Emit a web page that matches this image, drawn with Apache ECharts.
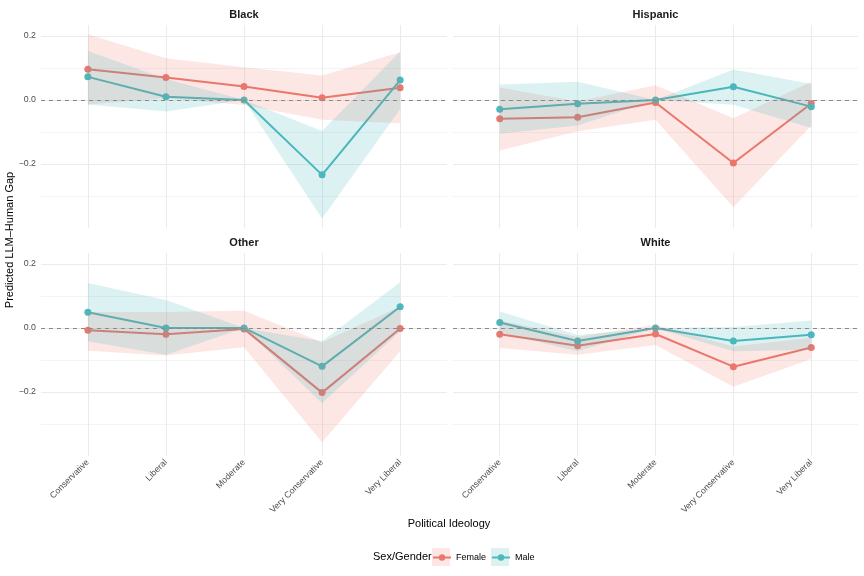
<!DOCTYPE html>
<html>
<head>
<meta charset="utf-8">
<script src="https://cdn.jsdelivr.net/npm/echarts@6/dist/echarts.min.js"></script>
<style>
html,body{margin:0;padding:0;background:#fff;}
#chart{width:864px;height:576px;}
</style>
</head>
<body>
<div id="chart"></div>
<script>
// ---- data ----
const categories = ['Conservative', 'Liberal', 'Moderate', 'Very Conservative', 'Very Liberal'];
const panels = ['Black', 'Hispanic', 'Other', 'White'];

const blackFemale   = [0.096, 0.070, 0.042, 0.007, 0.038];
const blackFemaleLo = [-0.014, 0.005, -0.016, -0.062, -0.073];
const blackFemaleHi = [0.205, 0.130, 0.102, 0.076, 0.149];
const blackMale     = [0.072, 0.010, 0.000, -0.234, 0.062];
const blackMaleLo   = [-0.014, -0.036, 0.000, -0.370, -0.028];
const blackMaleHi   = [0.153, 0.065, 0.000, -0.097, 0.151];

const hispanicFemale   = [-0.059, -0.054, -0.008, -0.197, -0.011];
const hispanicFemaleLo = [-0.158, -0.098, -0.062, -0.335, -0.080];
const hispanicFemaleHi = [0.039, -0.005, 0.046, -0.057, 0.057];
const hispanicMale     = [-0.029, -0.012, 0.000, 0.041, -0.021];
const hispanicMaleLo   = [-0.106, -0.080, 0.000, -0.015, -0.088];
const hispanicMaleHi   = [0.048, 0.057, 0.000, 0.095, 0.050];

const otherFemale   = [-0.007, -0.020, -0.003, -0.202, -0.002];
const otherFemaleLo = [-0.071, -0.086, -0.060, -0.357, -0.073];
const otherFemaleHi = [0.050, 0.050, 0.054, -0.045, 0.066];
const otherMale     = [0.049, 0.000, 0.000, -0.120, 0.066];
const otherMaleLo   = [-0.042, -0.084, 0.000, -0.235, -0.010];
const otherMaleHi   = [0.140, 0.087, 0.000, -0.042, 0.143];

const whiteFemale   = [-0.020, -0.056, -0.019, -0.121, -0.061];
const whiteFemaleLo = [-0.063, -0.084, -0.053, -0.184, -0.097];
const whiteFemaleHi = [0.023, -0.028, 0.010, -0.058, -0.031];
const whiteMale     = [0.017, -0.041, 0.000, -0.041, -0.021];
const whiteMaleLo   = [-0.015, -0.073, 0.000, -0.073, -0.068];
const whiteMaleHi   = [0.051, -0.022, 0.000, 0.003, 0.023];

const panelData = [
  {f: blackFemale, fLo: blackFemaleLo, fHi: blackFemaleHi, m: blackMale, mLo: blackMaleLo, mHi: blackMaleHi},
  {f: hispanicFemale, fLo: hispanicFemaleLo, fHi: hispanicFemaleHi, m: hispanicMale, mLo: hispanicMaleLo, mHi: hispanicMaleHi},
  {f: otherFemale, fLo: otherFemaleLo, fHi: otherFemaleHi, m: otherMale, mLo: otherMaleLo, mHi: otherMaleHi},
  {f: whiteFemale, fLo: whiteFemaleLo, fHi: whiteFemaleHi, m: whiteMale, mLo: whiteMaleLo, mHi: whiteMaleHi}
];

// ---- styling / layout ----
const FONT = '"Liberation Sans", Arial, Helvetica, sans-serif';
const femaleColor = '#EB786E';
const maleColor = '#4CB9BD';
const femaleFill = 'rgba(235,110,100,0.17)';
const maleFill = 'rgba(60,180,185,0.18)';

const grids = [
  {left: 41, top: 25, width: 406, height: 203},
  {left: 453, top: 25, width: 405, height: 203},
  {left: 41, top: 253, width: 406, height: 203},
  {left: 453, top: 253, width: 405, height: 203}
];

function fmtY(v) {
  const k = Math.round(v * 10);
  if (k % 2 !== 0 || k < -2 || k > 2) return '';
  return (k / 10).toFixed(1).replace('-', '\u2212');
}
function fmtX(v) {
  const r = Math.round(v);
  if (Math.abs(v - r) > 1e-6 || r < 0 || r >= categories.length) return '';
  return categories[r];
}

const xAxes = grids.map((g, i) => ({
  type: 'value', gridIndex: i, min: -0.6, max: 4.6, splitNumber: 5,
  axisLine: {show: false}, axisTick: {show: false},
  splitLine: {show: true, showMinLine: false, showMaxLine: false, lineStyle: {color: '#ebebeb', width: 1}},
  axisLabel: {
    show: i >= 2, rotate: 45, margin: 5, formatter: fmtX,
    showMinLabel: false, showMaxLabel: false,
    fontFamily: FONT, fontSize: 8.8, color: '#4d4d4d'
  }
}));

const yAxes = grids.map((g, i) => ({
  type: 'value', gridIndex: i, min: -0.4, max: 0.234, interval: 0.1,
  axisLine: {show: false}, axisTick: {show: false},
  splitLine: {show: true, showMinLine: false, showMaxLine: false, lineStyle: {color: ['#f3f3f3', '#ebebeb'], width: 1}},
  axisLabel: {
    show: i % 2 === 0, formatter: fmtY, margin: 5,
    showMinLabel: false, showMaxLabel: false,
    fontFamily: FONT, fontSize: 8.8, color: '#4d4d4d'
  }
}));

function ribbon(idx, lo, hi, fill, withZero) {
  const s = {
    type: 'custom', xAxisIndex: idx, yAxisIndex: idx, silent: true, z: 3,
    data: lo.map((l, i) => [i, l, hi[i]]),
    encode: {x: 0, y: [1, 2]},
    renderItem: function (params, api) {
      if (params.dataIndex !== 0) return null;
      const pts = [];
      for (let i = 0; i < hi.length; i++) pts.push(api.coord([i, hi[i]]));
      for (let i = lo.length - 1; i >= 0; i--) pts.push(api.coord([i, lo[i]]));
      return {type: 'polygon', shape: {points: pts}, style: {fill: fill}};
    }
  };
  if (withZero) {
    s.markLine = {
      silent: true, symbol: 'none', label: {show: false}, z: 5,
      lineStyle: {color: '#8a8a8a', type: [4, 4], width: 1},
      data: [{yAxis: 0}]
    };
  }
  return s;
}
function line(idx, name, vals, color) {
  return {
    type: 'line', name: name, xAxisIndex: idx, yAxisIndex: idx, z: 2,
    data: vals.map((v, i) => [i, v]),
    symbol: 'circle', symbolSize: 7, showSymbol: true,
    lineStyle: {color: color, width: 2},
    itemStyle: {color: color},
    emphasis: {disabled: true}
  };
}

const series = [];
panelData.forEach((p, i) => {
  series.push(line(i, 'Female', p.f, femaleColor));
  series.push(line(i, 'Male', p.m, maleColor));
  series.push(ribbon(i, p.fLo, p.fHi, femaleFill, false));
  series.push(ribbon(i, p.mLo, p.mHi, maleFill, true));
});

const graphic = [];
panels.forEach((name, i) => {
  const g = grids[i];
  graphic.push({
    type: 'text', x: g.left + g.width / 2, y: g.top - 10,
    style: {text: name, align: 'center', verticalAlign: 'middle', font: 'bold 11px ' + FONT, fill: '#1a1a1a'}
  });
});
graphic.push({
  type: 'text', x: 10, y: 240, rotation: Math.PI / 2,
  style: {text: 'Predicted LLM\u2013Human Gap', align: 'center', verticalAlign: 'middle', font: '11px ' + FONT, fill: '#000'}
});
graphic.push({
  type: 'text', x: 449, y: 524,
  style: {text: 'Political Ideology', align: 'center', verticalAlign: 'middle', font: '11px ' + FONT, fill: '#000'}
});
graphic.push({
  type: 'text', x: 373, y: 557,
  style: {text: 'Sex/Gender', align: 'left', verticalAlign: 'middle', font: '11px ' + FONT, fill: '#000'}
});
graphic.push({type: 'rect', shape: {x: 432, y: 548, width: 18, height: 18}, style: {fill: femaleFill}, z: -1});
graphic.push({type: 'rect', shape: {x: 491, y: 548, width: 18, height: 18}, style: {fill: maleFill}, z: -1});

const option = {
  backgroundColor: '#ffffff',
  animation: false,
  grid: grids,
  xAxis: xAxes,
  yAxis: yAxes,
  series: series,
  graphic: graphic,
  legend: {
    data: ['Female', 'Male'], selectedMode: false, padding: 0,
    left: 432, top: 553, itemWidth: 18, itemHeight: 8, itemGap: 5,
    textStyle: {fontFamily: FONT, fontSize: 9, color: '#000'}
  }
};

const chart = echarts.init(document.getElementById('chart'), null, {renderer: 'canvas'});
chart.setOption(option);
</script>
</body>
</html>
